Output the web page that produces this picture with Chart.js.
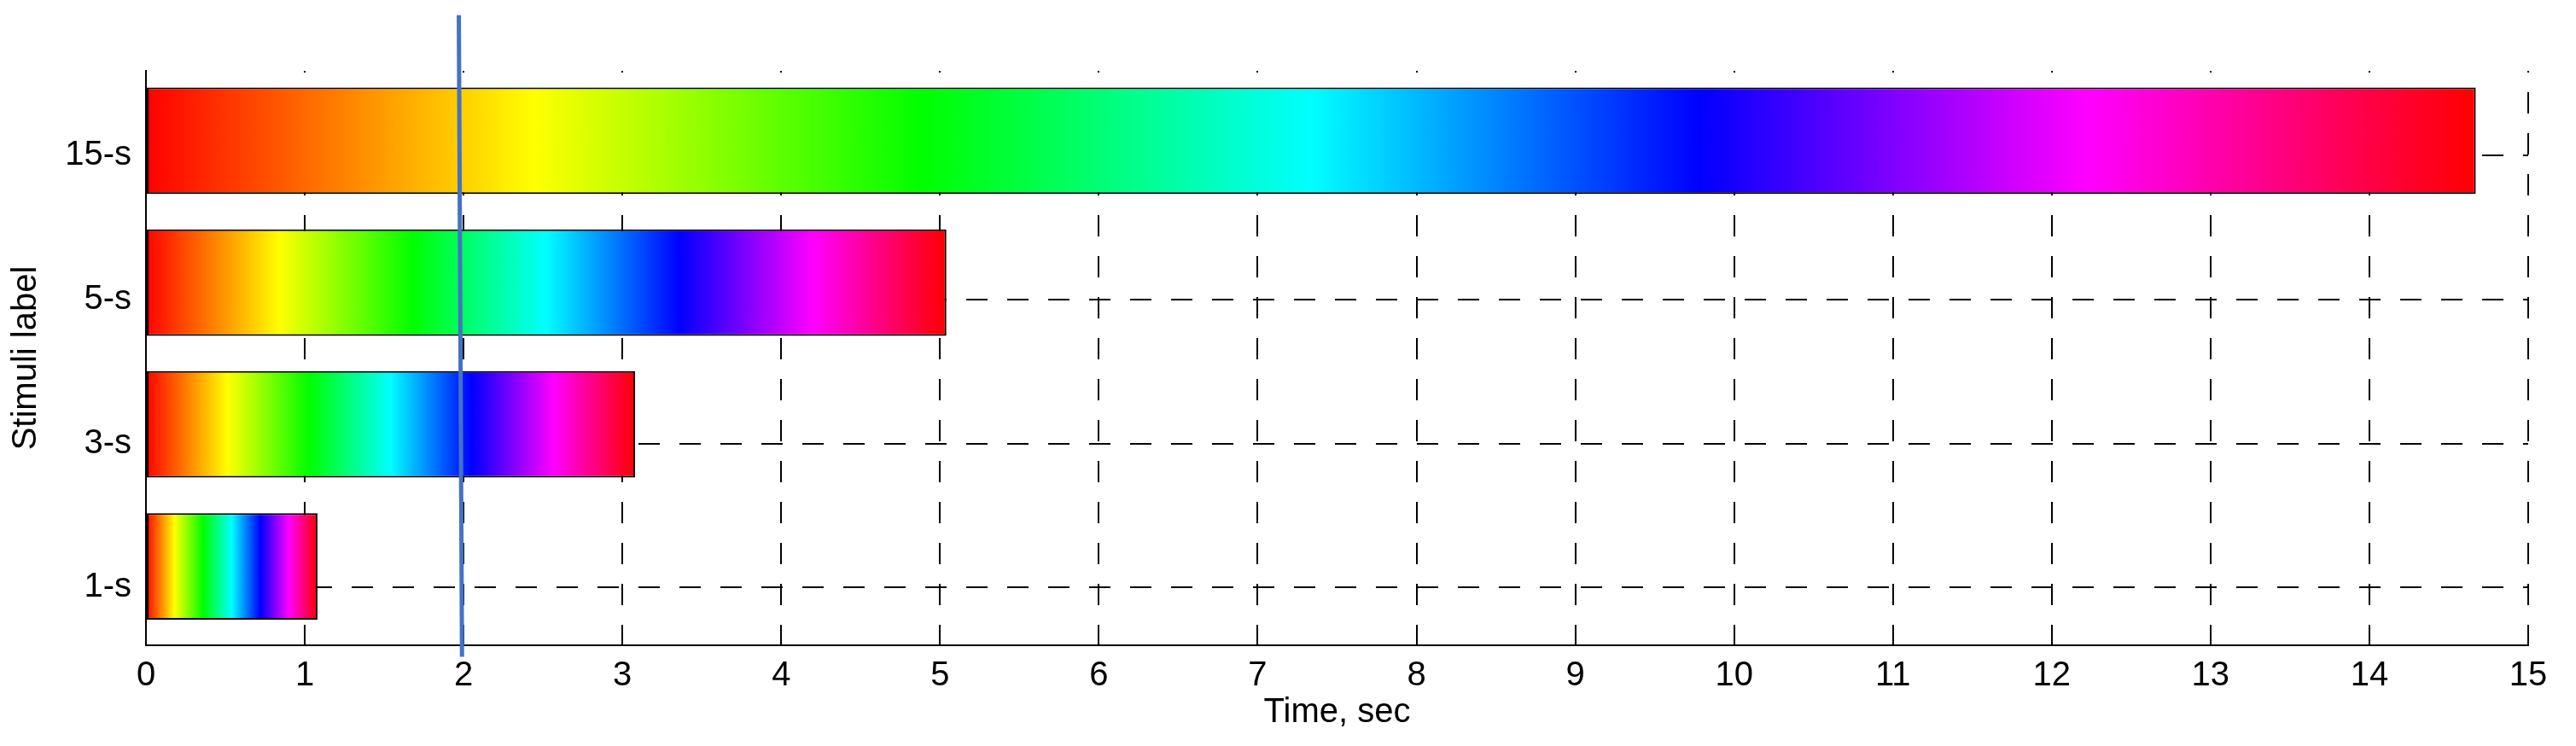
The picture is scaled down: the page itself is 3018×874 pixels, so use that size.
<!DOCTYPE html>
<html>
<head>
<meta charset="utf-8">
<script src="https://cdn.jsdelivr.net/npm/chart.js@4.4.0/dist/chart.umd.min.js"></script>
<style>
  html, body { margin: 0; padding: 0; background: #fff; }
</style>
</head>
<body>
<canvas id="chart" width="3018" height="874"></canvas>
<script>
// stimuli, bottom to top
const stimuli = ['1-s', '3-s', '5-s', '15-s'];
const durations = [1.08, 3.08, 5.04, 14.67];   // bar length, sec
const barRows = [1.147, 2.133, 3.115, 4.10];   // bars sit a little above their label row
const labelRows = [1, 2, 3, 4];
const timeMin = 0, timeMax = 15;

// the blue marker line near t = 2 (slightly slanted in the original)
const cursorTime = [1.97, 1.99];
const cursorRow = [4.97, 0.52];

const FONT = 'Liberation Sans, Arial, sans-serif';

// hsv colormap: red -> yellow -> green -> cyan -> blue -> magenta -> red
const hsvStops = ['#ff0000', '#ffff00', '#00ff00', '#00ffff', '#0000ff', '#ff00ff', '#ff0000'];

function barFill(ctx) {
    const chart = ctx.chart;
    const x = chart.scales.x;
    if (!chart.chartArea || !x || !ctx.raw) return '#ff0000';
    const x0 = x.getPixelForValue(0);
    const x1 = x.getPixelForValue(ctx.raw.x);
    const g = chart.ctx.createLinearGradient(x0, 0, x1, 0);
    hsvStops.forEach((c, i) => g.addColorStop(i / (hsvStops.length - 1), c));
    return g;
}

const cursorPlugin = {
    id: 'cursor',
    afterDatasetsDraw(chart) {
        const { ctx, scales: { x, y } } = chart;
        ctx.save();
        ctx.strokeStyle = '#4472c4';
        ctx.lineWidth = 5;
        ctx.beginPath();
        ctx.moveTo(x.getPixelForValue(cursorTime[0]), y.getPixelForValue(cursorRow[0]));
        ctx.lineTo(x.getPixelForValue(cursorTime[1]), y.getPixelForValue(cursorRow[1]));
        ctx.stroke();
        ctx.restore();
    }
};

const bars = durations.map((d, i) => ({ x: d, y: barRows[i] }));

new Chart(document.getElementById('chart'), {
    type: 'bar',
    data: {
        datasets: [{
            data: bars,
            backgroundColor: barFill,
            borderColor: '#000',
            borderWidth: 2,
            borderSkipped: false,
            barPercentage: 0.752,
            categoryPercentage: 1
        }]
    },
    plugins: [cursorPlugin],
    options: {
        indexAxis: 'y',
        responsive: false,
        animation: false,
        layout: { padding: { left: 0, right: 56, top: 83, bottom: 0 } },
        plugins: {
            legend: { display: false },
            tooltip: { enabled: false }
        },
        scales: {
            x: {
                type: 'linear',
                position: 'bottom',
                min: timeMin,
                max: timeMax,
                offset: false,
                afterBuildTicks: s => {
                    s.ticks = [];
                    for (let t = timeMin; t <= timeMax; t++) s.ticks.push({ value: t });
                },
                afterFit: s => { s.height = 118; },
                ticks: {
                    color: '#000',
                    font: { family: FONT, size: 40 },
                    padding: 12,
                    maxRotation: 0,
                    autoSkip: false
                },
                grid: { color: '#000', lineWidth: 2, drawTicks: false, offset: false },
                border: { display: true, color: '#000', width: 2, dash: [25, 23], dashOffset: 23 },
                title: {
                    display: true,
                    text: 'Time, sec',
                    color: '#000',
                    font: { family: FONT, size: 40 },
                    padding: { top: 0, bottom: 15 }
                }
            },
            y: {
                type: 'linear',
                position: 'left',
                min: 0.6,
                max: 4.584,
                offset: false,
                afterBuildTicks: s => { s.ticks = labelRows.map(v => ({ value: v })); },
                afterFit: s => { s.width = 171; },
                ticks: {
                    color: '#000',
                    font: { family: FONT, size: 40 },
                    padding: 17,
                    callback: v => stimuli[labelRows.indexOf(v)]
                },
                grid: { color: '#000', lineWidth: 2, drawTicks: false, offset: false },
                border: { display: true, color: '#000', width: 2, dash: [25, 23], dashOffset: 0 },
                title: {
                    display: true,
                    text: 'Stimuli label',
                    color: '#000',
                    font: { family: FONT, size: 40 },
                    padding: { top: 7, bottom: 0 }
                }
            }
        }
    }
});
</script>
</body>
</html>
